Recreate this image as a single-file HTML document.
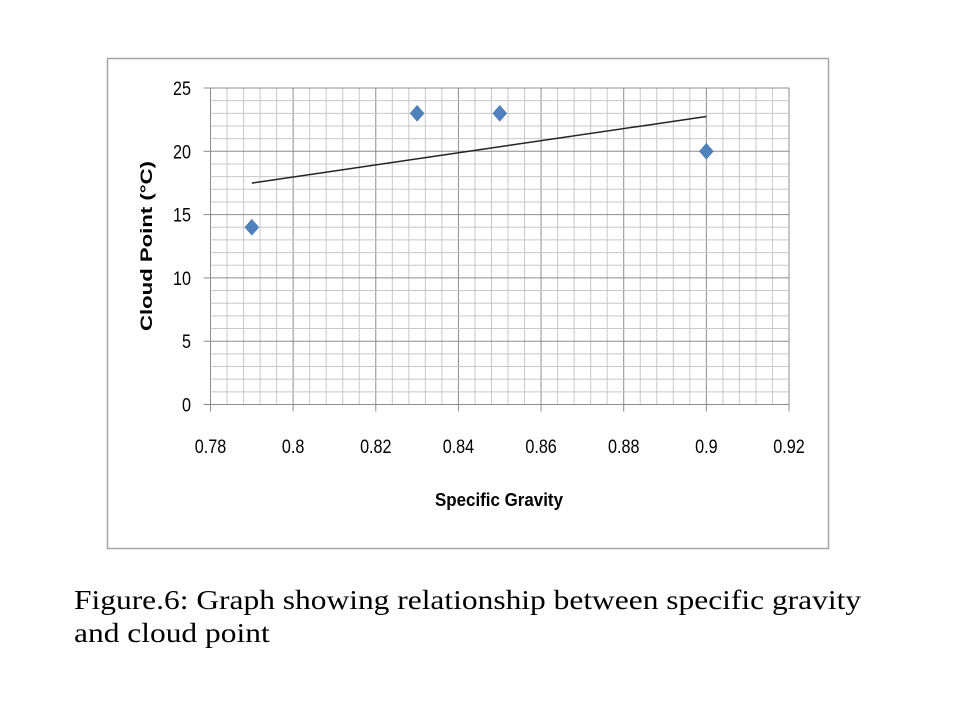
<!DOCTYPE html>
<html><head><meta charset="utf-8"><style>
body{margin:0;background:#fff;width:960px;height:720px;overflow:hidden;position:relative;font-family:"Liberation Sans",sans-serif}
.cap{position:absolute;left:74px;top:584px;font-family:"Liberation Serif",serif;font-size:27px;line-height:33px;color:#000;transform:scaleX(1.165);transform-origin:0 0;white-space:nowrap}
</style></head><body>
<svg width="960" height="720" style="position:absolute;left:0;top:0">
<rect x="107.5" y="58.5" width="721" height="490" fill="#fff" stroke="#a6a6a6" stroke-width="1.5"/>
<g id="grid"></g><g id="axes"></g><g id="marks"></g>
<text transform="translate(152,246) rotate(-90)" text-anchor="middle" font-size="17" font-weight="bold" fill="#000" textLength="170" lengthAdjust="spacingAndGlyphs">Cloud Point (°C)</text>
<text x="499" y="506" text-anchor="middle" font-size="18" font-weight="bold" fill="#000" textLength="128" lengthAdjust="spacingAndGlyphs">Specific Gravity</text>
</svg>
<div class="cap">Figure.6: Graph showing relationship between specific gravity<br>and cloud point</div>
<script>
const xValues=[0.79,0.83,0.85,0.90];
const yValues=[14,23,23,20];
const xTicks=["0.78","0.8","0.82","0.84","0.86","0.88","0.9","0.92"];
const yTicks=["0","5","10","15","20","25"];
const X0=210.5,X1=789,Y0=404.5,Y1=88;
const xs=v=>X0+(v-0.78)/(0.14)*(X1-X0);
const ys=v=>Y0-v/25*(Y0-Y1);
const NS="http://www.w3.org/2000/svg";
function mk(p,t,a){const e=document.createElementNS(NS,t);for(const k in a)e.setAttribute(k,a[k]);p.appendChild(e);return e;}
const g=document.getElementById('grid'),ax=document.getElementById('axes'),m=document.getElementById('marks');
for(let i=0;i<=35;i++){const x=xs(0.78+i*0.004);const l=mk(g,'line',{x1:x,x2:x,y1:Y1,y2:Y0,stroke:i%5?'#c8c8c8':'#8c8c8c','stroke-width':1});

}
for(let i=0;i<=25;i++){const y=ys(i);const l=mk(g,'line',{x1:X0,x2:X1,y1:y,y2:y,stroke:i%5?'#c8c8c8':'#8c8c8c','stroke-width':1});

}
xTicks.forEach(t=>{const x=xs(parseFloat(t));mk(ax,'line',{x1:x,x2:x,y1:Y0,y2:Y0+7,stroke:'#8c8c8c'});
const e=mk(ax,'text',{x:x,y:453,'text-anchor':'middle','font-size':19,fill:'#000',transform:`translate(${x},0) scale(0.85,1) translate(${-x},0)`});e.textContent=t;

});
yTicks.forEach(t=>{const y=ys(parseFloat(t));mk(ax,'line',{x1:X0-7,x2:X0,y1:y,y2:y,stroke:'#8c8c8c'});
const e=mk(ax,'text',{x:191,y:y+7,'text-anchor':'end','font-size':19,fill:'#000',transform:`translate(191,0) scale(0.85,1) translate(-191,0)`});e.textContent=t;

});
const n=xValues.length,mx=xValues.reduce((a,b)=>a+b)/n,my=yValues.reduce((a,b)=>a+b)/n;
let sxy=0,sxx=0;xValues.forEach((x,i)=>{sxy+=(x-mx)*(yValues[i]-my);sxx+=(x-mx)**2;});
const sl=sxy/sxx,ic=my-sl*mx,xa=Math.min(...xValues),xb=Math.max(...xValues);
const tl=mk(m,'line',{x1:xs(xa),y1:ys(ic+sl*xa),x2:xs(xb),y2:ys(ic+sl*xb),stroke:'#222','stroke-width':1.5});


xValues.forEach((x,i)=>{const cx=xs(x),cy=ys(yValues[i]);
const p=mk(m,'polygon',{points:`${cx},${cy-8} ${cx+7},${cy} ${cx},${cy+8} ${cx-7},${cy}`,fill:'#4f81bd',stroke:'#3b6aa0','stroke-width':0.5});

});
</script>
</body></html>
